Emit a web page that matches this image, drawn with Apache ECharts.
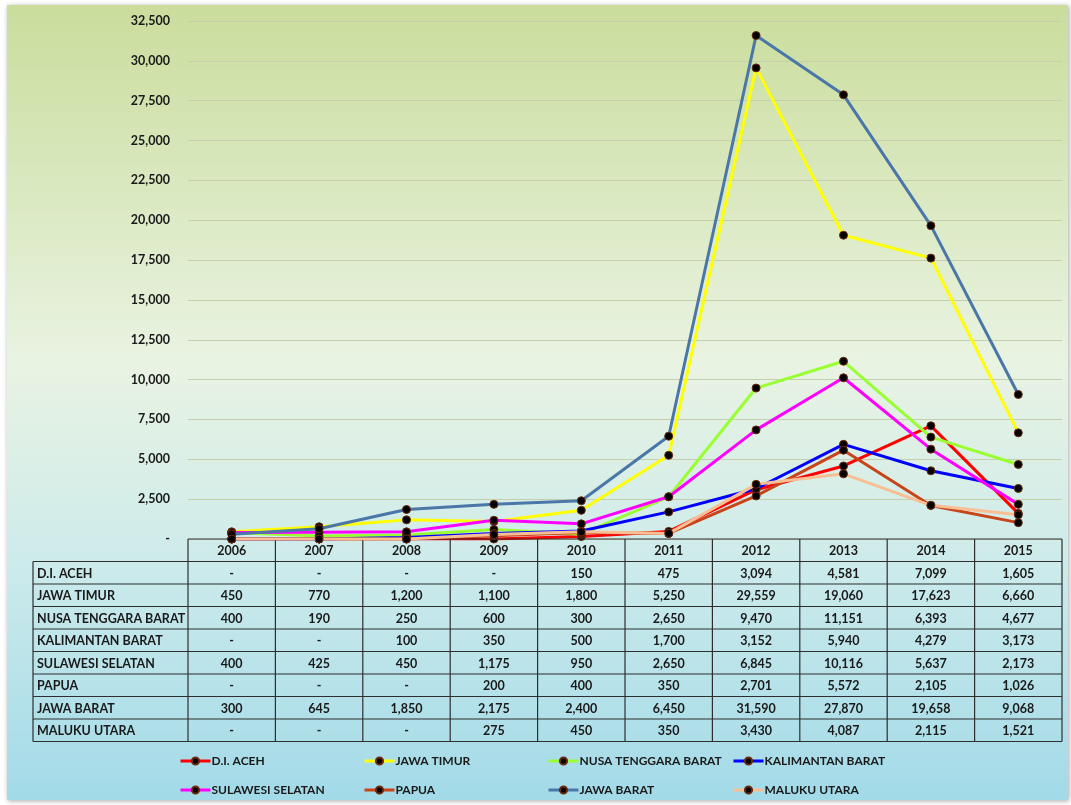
<!DOCTYPE html>
<html>
<head>
<meta charset="utf-8">
<script src="https://cdn.jsdelivr.net/npm/echarts@6/dist/echarts.min.js"></script>
<style>
html,body{margin:0;padding:0;background:#ffffff;}
#chart{width:1071px;height:805px;}
</style>
</head>
<body>
<div id="chart"></div>
<script>
// ---- data ----
const years = ['2006','2007','2008','2009','2010','2011','2012','2013','2014','2015'];
const seriesNames = ['D.I. ACEH','JAWA TIMUR','NUSA TENGGARA BARAT','KALIMANTAN BARAT','SULAWESI SELATAN','PAPUA','JAWA BARAT','MALUKU UTARA'];
const diAceh          = [0, 0, 0, 0, 150, 475, 3094, 4581, 7099, 1605];
const jawaTimur       = [450, 770, 1200, 1100, 1800, 5250, 29559, 19060, 17623, 6660];
const nusaTenggara    = [400, 190, 250, 600, 300, 2650, 9470, 11151, 6393, 4677];
const kalimantanBarat = [0, 0, 100, 350, 500, 1700, 3152, 5940, 4279, 3173];
const sulawesiSelatan = [400, 425, 450, 1175, 950, 2650, 6845, 10116, 5637, 2173];
const papua           = [0, 0, 0, 200, 400, 350, 2701, 5572, 2105, 1026];
const jawaBarat       = [300, 645, 1850, 2175, 2400, 6450, 31590, 27870, 19658, 9068];
const malukuUtara     = [0, 0, 0, 275, 450, 350, 3430, 4087, 2115, 1521];
const yTicks = [0, 2500, 5000, 7500, 10000, 12500, 15000, 17500, 20000, 22500, 25000, 27500, 30000, 32500];

const allValues = [diAceh, jawaTimur, nusaTenggara, kalimantanBarat, sulawesiSelatan, papua, jawaBarat, malukuUtara];
const colors = ['#ff0000','#ffff00','#99ff33','#0000ff','#ff00ff','#c8441a','#4a76a8','#f9bf94'];

const FONT = 'Lato, "Open Sans", sans-serif';
const fmt = v => v === 0 ? '-' : v.toLocaleString('en-US');

const chart = echarts.init(document.getElementById('chart'));

const series = seriesNames.map((n, i) => ({
  name: n,
  type: 'line',
  data: allValues[i],
  symbol: 'circle',
  symbolSize: 8,
  showSymbol: true,
  lineStyle: { color: colors[i], width: 3 },
  itemStyle: { color: '#000000', borderColor: '#6b2a10', borderWidth: 1 },
  emphasis: { disabled: true },
  z: 3 + i
}));

const legendCols = [179, 363, 547, 732];
const legends = legendCols.map((x, c) => ({
  orient: 'vertical',
  left: x,
  top: 755,
  padding: 0,
  height: 50,
  itemWidth: 30,
  itemHeight: 9,
  itemGap: 17,
  data: [seriesNames[c], seriesNames[c + 4]],
  lineStyle: { width: 3 },
  textStyle: { fontFamily: FONT, fontSize: 12, fontWeight: 'bold', color: '#1a1a1a', padding: [0, 0, 0, -4] },
  selectedMode: false
}));

chart.setOption({
  animation: false,
  backgroundColor: 'transparent',
  grid: { left: 188, right: 9, top: 21, bottom: 266, containLabel: false },
  xAxis: {
    type: 'category',
    data: years,
    boundaryGap: true,
    axisLine: { show: false },
    axisTick: { show: false },
    axisLabel: { show: false }
  },
  yAxis: {
    type: 'value',
    min: yTicks[0],
    max: yTicks[yTicks.length - 1],
    interval: 2500,
    axisLine: { show: false },
    axisTick: { show: false },
    splitLine: { lineStyle: { color: '#c6cfac', width: 1 } },
    axisLabel: { formatter: fmt, fontFamily: FONT, fontSize: 12.5, fontWeight: 'bold', color: '#1a1a1a', margin: 18 }
  },
  legend: legends,
  series: series
});

// ---- data table, positioned from the axis scales ----
function buildTable() {
  const xs = years.map((y, i) => chart.convertToPixel({ xAxisIndex: 0 }, i));
  const band = xs[1] - xs[0];
  const y0 = chart.convertToPixel({ yAxisIndex: 0 }, 0);
  const rowH = 22.5;
  const tableLeft = 33;
  const colLeft = xs[0] - band / 2;
  const colRight = xs[xs.length - 1] + band / 2;
  const nRows = seriesNames.length;
  const bottom = y0 + rowH * (nRows + 1);
  const g = [];
  g.push({
    type: 'rect', z: -10, silent: true,
    shape: { x: 7, y: 5, width: 1061, height: 795 },
    style: {
      fill: new echarts.graphic.LinearGradient(0, 0, 0, 1, [
        { offset: 0, color: '#cadd9c' },
        { offset: 0.45, color: '#e9f3e2' },
        { offset: 0.7, color: '#cdebeb' },
        { offset: 1, color: '#a2dae8' }
      ]),
      shadowBlur: 5, shadowColor: 'rgba(0,0,0,0.35)', shadowOffsetX: 1, shadowOffsetY: 1
    }
  });
  const line = (x1, y1, x2, y2) => g.push({
    type: 'line', silent: true, z: 10,
    shape: { x1, y1, x2, y2 },
    style: { stroke: '#2e2e2e', lineWidth: 1.2 }
  });
  line(colLeft, y0, colRight, y0);
  for (let r = 1; r <= nRows + 1; r++) {
    const yy = y0 + rowH * r;
    line(tableLeft, yy, colRight, yy);
  }
  line(tableLeft, y0 + rowH, tableLeft, bottom);
  for (let c = 0; c <= years.length; c++) {
    const xx = colLeft + band * c;
    line(xx, y0, xx, bottom);
  }
  const txt = (text, x, y, align) => g.push({
    type: 'text', silent: true, z: 11,
    x, y,
    style: { text, fill: '#1a1a1a', font: 'bold 12.5px ' + FONT, align, verticalAlign: 'middle' }
  });
  years.forEach((yr, i) => txt(yr, xs[i], y0 + rowH / 2 + 1, 'center'));
  seriesNames.forEach((n, r) => {
    const yy = y0 + rowH * (r + 1) + rowH / 2 + 1;
    txt(n, tableLeft + 4, yy, 'left');
    allValues[r].forEach((v, i) => txt(fmt(v), xs[i], yy, 'center'));
  });
  chart.setOption({ graphic: g });
}
buildTable();
</script>
</body>
</html>
